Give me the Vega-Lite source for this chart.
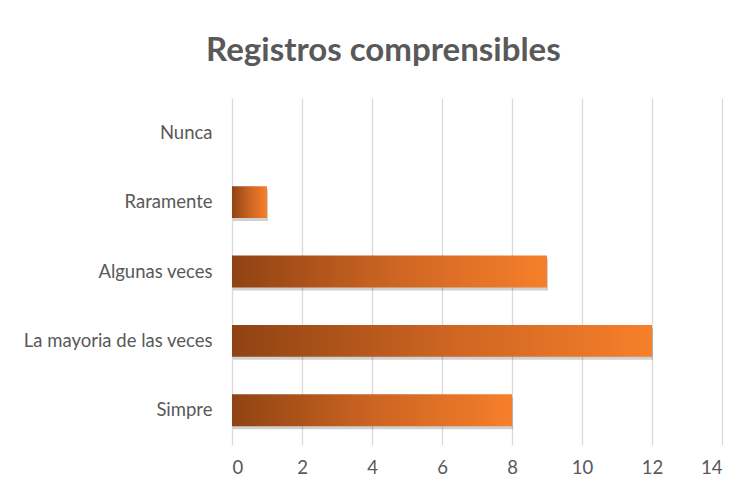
{
  "$schema": "https://vega.github.io/schema/vega-lite/v6.json",
  "width": 490,
  "height": 347,
  "padding": {"left": 22, "top": 35, "right": 20, "bottom": 5},
  "background": "white",
  "title": {
    "text": "Registros comprensibles",
    "font": "Lato",
    "fontSize": 33,
    "fontWeight": "bold",
    "color": "#595959",
    "anchor": "middle",
    "frame": "bounds",
    "dx": 11,
    "offset": 30
  },
  "config": {
    "view": {"stroke": null},
    "axis": {
      "labelFont": "Lato",
      "labelFontSize": 18.5,
      "labelColor": "#595959",
      "labelLimit": 400,
      "ticks": false,
      "domain": false,
      "title": null
    }
  },
  "data": {
    "values": [
      {"categoria": "Nunca", "valor": 0},
      {"categoria": "Raramente", "valor": 1},
      {"categoria": "Algunas veces", "valor": 9},
      {"categoria": "La mayoria de las veces", "valor": 12},
      {"categoria": "Simpre", "valor": 8}
    ]
  },
  "encoding": {
    "y": {
      "field": "categoria",
      "type": "nominal",
      "sort": ["Nunca", "Raramente", "Algunas veces", "La mayoria de las veces", "Simpre"],
      "scale": {"paddingInner": 0.54, "paddingOuter": 0.27},
      "axis": {"labelPadding": 20, "grid": false}
    },
    "x": {
      "field": "valor",
      "type": "quantitative",
      "scale": {"domain": [0, 14]},
      "axis": {"values": [0, 2, 4, 6, 8, 10, 12, 14], "grid": true, "gridColor": "#d9d9d9", "gridWidth": 1.3, "labelPadding": 13}
    }
  },
  "layer": [
    {
      "mark": {"type": "bar", "color": "#000000", "opacity": 0.18, "yOffset": 3, "xOffset": 1}
    },
    {
      "mark": {
        "type": "bar",
        "color": {
          "gradient": "linear",
          "x1": 0, "y1": 0, "x2": 1, "y2": 0,
          "stops": [
            {"offset": 0, "color": "#8f4313"},
            {"offset": 0.5, "color": "#cc6422"},
            {"offset": 1, "color": "#f67f2a"}
          ]
        }
      }
    }
  ]
}
